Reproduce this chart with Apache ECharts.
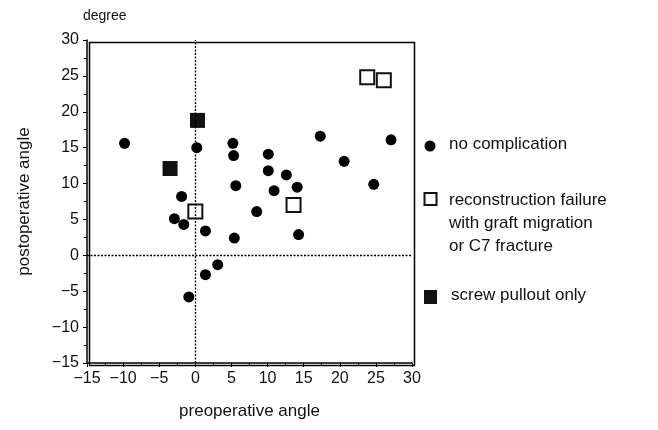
<!DOCTYPE html>
<html>
<head>
<meta charset="utf-8">
<script src="https://cdn.jsdelivr.net/npm/echarts@6/dist/echarts.min.js"></script>
<style>
  html, body { margin: 0; padding: 0; background: #fff; }
  #chart { width: 658px; height: 430px; }
</style>
</head>
<body>
<div id="chart"></div>
<script>
// [preoperative, postoperative] in degrees
var noComplication = [
  [-9.8, 15.6], [0.2, 15.0], [5.2, 15.6], [5.3, 13.9], [10.1, 14.1],
  [10.1, 11.8], [12.6, 11.2], [17.3, 16.6], [20.6, 13.1], [27.1, 16.1],
  [5.6, 9.7], [10.9, 9.0], [14.1, 9.5], [24.7, 9.9], [-1.9, 8.2],
  [8.5, 6.1], [-2.9, 5.1], [-1.6, 4.3], [1.4, 3.4], [5.4, 2.4],
  [14.3, 2.9], [3.1, -1.3], [1.4, -2.7], [-0.9, -5.8]
];
var reconFailure = [[23.8, 24.8], [26.1, 24.4], [0.0, 6.1], [13.6, 7.0]];
var screwPullout = [[0.3, 18.8], [-3.5, 12.1]];

var xTicks = [-15, 30, 5];   // min, max, interval
var yTicks = [-15, 30, 5];

var textFont = 'Liberation Sans';

var chart = echarts.init(document.getElementById('chart'));

function axis(t) {
  return {
    min: t[0], max: t[1], interval: t[2],
    axisLine: { onZero: false, lineStyle: { color: '#000', width: 1.5 } },
    axisTick: { show: true, inside: false, length: 4, lineStyle: { color: '#000' } },
    minorTick: { show: true, splitNumber: 2, length: 3, lineStyle: { color: '#000' } },
    splitLine: { show: false },
    axisLabel: {
      color: '#111', fontFamily: textFont, fontSize: 16, margin: 8,
      formatter: function (v) { return String(v).replace('-', '\u2212'); }
    }
  };
}

var xAxis = axis(xTicks);
xAxis.name = 'preoperative angle';
xAxis.nameLocation = 'middle';
xAxis.nameGap = 40;
xAxis.nameTextStyle = { color: '#111', fontFamily: textFont, fontSize: 17 };

var yAxis = axis(yTicks);
yAxis.name = 'postoperative angle';
yAxis.nameLocation = 'middle';
yAxis.nameGap = 54;
yAxis.nameTextStyle = { color: '#111', fontFamily: textFont, fontSize: 17 };

// right/top border of the plot box
var border = { type: 'rect', left: 87, top: 40, shape: { width: 325, height: 323 },
  style: { fill: 'none', stroke: '#000', lineWidth: 1.5 }, silent: true, z: 1 };

var legendX = 430;
var legend = [
  { type: 'circle', shape: { cx: legendX, cy: 146, r: 5.5 }, style: { fill: '#000' } },
  { type: 'text', left: 449, top: 136, style: { text: 'no complication', font: '17px ' + textFont, fill: '#111' } },
  { type: 'rect', shape: { x: legendX - 5.5, y: 193, width: 12, height: 12 }, style: { fill: '#fff', stroke: '#111', lineWidth: 2 } },
  { type: 'text', left: 449, top: 189, style: { text: 'reconstruction failure\nwith graft migration\nor C7 fracture', font: '17px ' + textFont, fill: '#111', lineHeight: 23 } },
  { type: 'rect', shape: { x: legendX - 6, y: 290, width: 13, height: 14 }, style: { fill: '#111' } },
  { type: 'text', left: 451, top: 287, style: { text: 'screw pullout only', font: '17px ' + textFont, fill: '#111' } },
  { type: 'text', left: 83, top: 9, style: { text: 'degree', font: '14px ' + textFont, fill: '#111' } }
];

chart.setOption({
  animation: false,
  backgroundColor: '#fff',
  grid: { left: 87, top: 40, width: 325, height: 323, containLabel: false },
  xAxis: xAxis,
  yAxis: yAxis,
  graphic: [border].concat(legend),
  series: [
    {
      name: 'no complication', type: 'scatter', data: noComplication,
      symbol: 'circle', symbolSize: 11, itemStyle: { color: '#000', opacity: 1 }, z: 3,
      markLine: {
        silent: true, symbol: 'none', label: { show: false },
        lineStyle: { color: '#000', type: [2, 1.5], width: 1.3 },
        data: [{ xAxis: 0 }, { yAxis: 0 }]
      }
    },
    {
      name: 'reconstruction failure', type: 'scatter', data: reconFailure,
      symbol: 'rect', symbolSize: 14, z: 3,
      itemStyle: { color: '#fff', borderColor: '#111', borderWidth: 2, opacity: 1 }
    },
    {
      name: 'screw pullout only', type: 'scatter', data: screwPullout,
      symbol: 'rect', symbolSize: 15, z: 3,
      itemStyle: { color: '#111', opacity: 1 }
    }
  ]
});
</script>
</body>
</html>
